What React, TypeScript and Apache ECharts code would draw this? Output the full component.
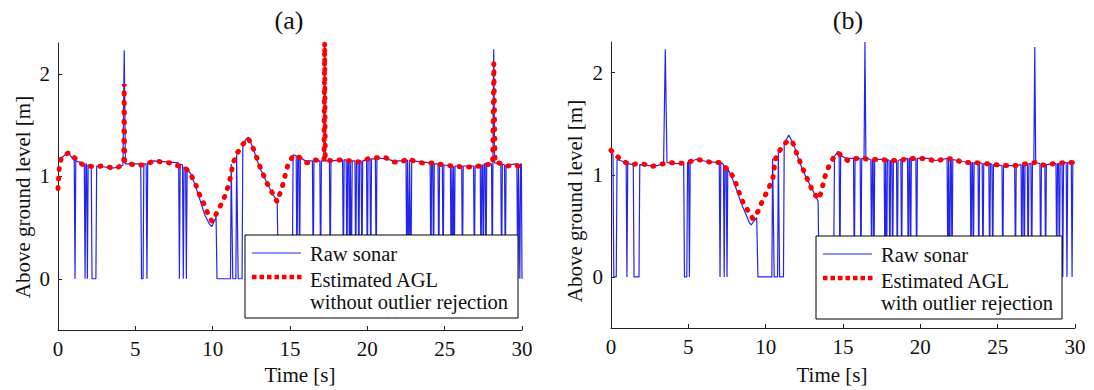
import React, { useEffect, useRef } from "react";
import * as echarts from "echarts";

// ---------- data ----------
const xMin = 0;
const xMax = 30;
const xInterval = 5;
const yMin = -0.5;
const yMax = 2.3;
const yTickValues = [0, 1, 2];

const panelTitles = ["(a)", "(b)"];
const xAxisTitle = "Time [s]";
const yAxisTitle = "Above ground level [m]";
const legendRaw = "Raw sonar";
const legendEstA = ["Estimated AGL", "without outlier rejection"];
const legendEstB = ["Estimated AGL", "with outlier rejection"];

// (a) raw sonar [time, value]
const rawA: number[][] = [
  [0, 1.15], [0.3, 1.19], [0.67, 1.23], [0.95, 1.17],
  [1.05, 1.16], [1.1, 0], [1.15, 1.15],
  [1.7, 1.12], [1.75, 0], [1.8, 1.12], [1.85, 1.12], [1.9, 0], [1.95, 1.11],
  [2.15, 1.11], [2.2, 0], [2.45, 0], [2.5, 1.1],
  [3.0, 1.09], [3.5, 1.08], [4.0, 1.09], [4.2, 1.11], [4.28, 2.23], [4.36, 1.12],
  [5.0, 1.12], [5.35, 1.12], [5.4, 0], [5.5, 0], [5.55, 1.12], [5.7, 1.12], [5.75, 0], [5.8, 1.13],
  [6.2, 1.15], [7.0, 1.14], [7.8, 1.13], [7.85, 0], [7.9, 1.12], [8.05, 1.11], [8.1, 0], [8.15, 1.09],
  [8.25, 1.08], [8.3, 0], [8.35, 1.07],
  [8.6, 1.02], [8.9, 0.9], [9.2, 0.76], [9.5, 0.62], [9.8, 0.53], [9.95, 0.51], [10.1, 0.56], [10.22, 0.6], [10.28, 0],
  [11.15, 0], [11.2, 1.12], [11.3, 0], [11.5, 0], [11.55, 1.21], [11.65, 0], [11.9, 0], [11.95, 1.31],
  [12.15, 1.36], [12.3, 1.38], [12.6, 1.28], [13.0, 1.1], [13.5, 0.94], [13.9, 0.82], [14.17, 0.76], [14.25, 0],
  [15.15, 0], [15.2, 1.21], [15.4, 1.2], [15.45, 0], [15.5, 1.2], [15.57, 1.19], [15.62, 0], [15.67, 1.18],
  [16.0, 1.15], [16.45, 1.15], [16.5, 0], [16.55, 1.15], [16.93, 1.15], [16.98, 0], [17.03, 1.15],
  [17.18, 1.15], [17.24, 2.3], [17.3, 1.15], [17.55, 1.15], [17.6, 0], [17.65, 1.15],
  [18.4, 1.16], [18.45, 0], [18.5, 1.16], [18.63, 1.16], [18.68, 0], [18.73, 1.16], [18.8, 1.15], [18.85, 0], [18.9, 1.15],
  [18.93, 1.15], [18.97, 0], [19.02, 1.15], [19.2, 1.15], [19.25, 0], [19.3, 1.15], [19.4, 1.14], [19.45, 0], [19.5, 1.14],
  [19.6, 1.15], [19.65, 0], [19.7, 1.15], [19.95, 1.16], [20.0, 0], [20.05, 1.16], [20.17, 1.17], [20.22, 0], [20.27, 1.17],
  [20.52, 1.17], [20.57, 0], [20.62, 1.18], [21.2, 1.17], [21.7, 1.15], [22.2, 1.15],
  [22.5, 1.16], [22.55, 0], [22.6, 1.16], [22.63, 1.16], [22.68, 0], [22.73, 1.16], [22.77, 1.16], [22.82, 0], [22.87, 1.15],
  [23.5, 1.14], [24.06, 1.13], [24.11, 0], [24.16, 1.13], [24.23, 1.13], [24.28, 0], [24.33, 1.12],
  [24.57, 1.12], [24.62, 0], [24.67, 1.12], [24.85, 1.11], [24.9, 0], [24.95, 1.11],
  [25.37, 1.1], [25.42, 0], [25.47, 1.1], [25.48, 1.1], [25.52, 0], [25.57, 1.1], [25.58, 1.1], [25.62, 0], [25.67, 1.1],
  [26.1, 1.1], [26.15, 0], [26.2, 1.1], [26.87, 1.1], [26.92, 0], [26.97, 1.1],
  [27.3, 1.11], [27.35, 0], [27.4, 1.11], [27.45, 1.11], [27.5, 0], [27.55, 1.12], [27.62, 1.12], [27.67, 0], [27.72, 1.12],
  [28.03, 1.12], [28.08, 0], [28.12, 1.12], [28.17, 2.24], [28.23, 1.13],
  [28.63, 1.12], [28.68, 0], [28.73, 1.12], [28.87, 1.11], [28.92, 0], [28.97, 1.11],
  [29.67, 1.12], [29.72, 0], [29.77, 1.12], [29.81, 1.12], [29.86, 0], [29.91, 1.12], [29.96, 1.12], [30.0, 0],
];

// (a) estimated AGL without outlier rejection
const estA: number[][] = [
  [0, 0.88], [0.08, 1.08], [0.2, 1.17], [0.45, 1.21], [0.7, 1.23], [1.0, 1.19], [1.3, 1.14], [1.65, 1.11],
  [2.0, 1.1], [2.4, 1.09], [2.8, 1.1], [3.05, 1.1], [3.5, 1.08], [3.8, 1.08], [4.15, 1.11], [4.25, 1.13],
  [4.28, 1.9], [4.31, 1.14], [4.6, 1.12], [5.0, 1.11], [5.5, 1.11], [5.9, 1.13], [6.2, 1.15], [6.7, 1.14],
  [7.2, 1.13], [7.8, 1.1], [8.3, 1.07], [8.55, 1.03], [8.9, 0.92], [9.2, 0.8], [9.5, 0.71], [9.75, 0.61],
  [9.96, 0.56], [10.33, 0.66], [10.72, 0.78], [11.0, 0.9], [11.2, 1.02], [11.3, 1.12], [11.6, 1.23],
  [11.95, 1.31], [12.3, 1.37], [12.66, 1.26], [13.09, 1.08], [13.52, 0.93], [13.85, 0.84], [14.17, 0.75],
  [14.5, 0.9], [14.86, 1.11], [15.2, 1.2], [15.56, 1.19], [16.1, 1.13], [16.55, 1.16], [17.1, 1.15],
  [17.2, 1.16], [17.24, 2.3], [17.28, 1.16], [17.73, 1.15], [18.27, 1.16], [18.92, 1.15], [19.46, 1.14],
  [20.06, 1.17], [20.6, 1.18], [21.2, 1.18], [21.7, 1.14], [22.24, 1.14], [22.56, 1.17], [23.0, 1.15],
  [23.54, 1.13], [24.3, 1.13], [24.94, 1.11], [25.53, 1.1], [26.24, 1.09], [26.89, 1.09], [27.54, 1.11],
  [28.1, 1.12], [28.18, 2.1], [28.26, 1.13], [28.5, 1.13], [29.1, 1.1], [29.6, 1.11], [29.75, 1.1],
];

// (b) raw sonar [time, value]
const rawB: number[][] = [
  [0, 1.22], [0.13, 1.2], [0.18, 0], [0.34, 0], [0.39, 1.15],
  [0.98, 1.12], [1.03, 0], [1.08, 1.11],
  [1.44, 1.1], [1.49, 0], [1.81, 0], [1.86, 1.1],
  [2.5, 1.09], [3.0, 1.09], [3.4, 1.11], [3.51, 2.23], [3.62, 1.12],
  [4.3, 1.11], [4.7, 1.11], [4.75, 0], [4.9, 0], [4.95, 1.12], [5.02, 1.12], [5.07, 0], [5.12, 1.13],
  [5.5, 1.15], [6.2, 1.13], [7.0, 1.12], [7.05, 0], [7.1, 1.12], [7.27, 1.1], [7.32, 0], [7.37, 1.09],
  [7.45, 1.08], [7.5, 0], [7.55, 1.06],
  [7.8, 0.98], [8.1, 0.86], [8.4, 0.73], [8.7, 0.62], [8.95, 0.53], [9.07, 0.51], [9.25, 0.55], [9.42, 0.58], [9.5, 0],
  [10.4, 0], [10.45, 1.16], [10.55, 0], [10.77, 0], [10.82, 1.22], [10.9, 0], [11.15, 0], [11.2, 1.3],
  [11.49, 1.39], [11.8, 1.3], [12.2, 1.12], [12.6, 0.98], [13.0, 0.86], [13.39, 0.74], [13.45, 0],
  [14.39, 0], [14.45, 1.18], [14.67, 1.23], [14.75, 1.21], [14.8, 0], [14.85, 1.19], [15.2, 1.16],
  [15.68, 1.16], [15.73, 0], [15.78, 1.16], [16.11, 1.16], [16.16, 0], [16.21, 1.16],
  [16.36, 1.16], [16.42, 2.3], [16.48, 1.16], [16.8, 1.15], [16.85, 0], [16.9, 1.15], [16.95, 1.15], [17.0, 0], [17.05, 1.15],
  [17.66, 1.15], [17.71, 0], [17.76, 1.15], [17.77, 1.15], [17.82, 0], [17.87, 1.15], [17.98, 1.14], [18.03, 0], [18.08, 1.14],
  [18.16, 1.14], [18.21, 0], [18.26, 1.14], [18.46, 1.14], [18.51, 0], [18.56, 1.14], [18.74, 1.15], [18.79, 0], [18.84, 1.15],
  [19.17, 1.16], [19.22, 0], [19.27, 1.16], [19.32, 1.16], [19.37, 0], [19.42, 1.16], [19.71, 1.16], [19.76, 0], [19.81, 1.16],
  [20.5, 1.16], [21.0, 1.14], [21.4, 1.15],
  [21.73, 1.16], [21.78, 0], [21.83, 1.16], [21.85, 1.16], [21.9, 0], [21.95, 1.16], [22.0, 1.15], [22.05, 0], [22.1, 1.15],
  [22.7, 1.13], [23.23, 1.12], [23.28, 0], [23.33, 1.12], [23.38, 1.12], [23.43, 0], [23.48, 1.12],
  [23.73, 1.12], [23.78, 0], [23.83, 1.12], [24.0, 1.11], [24.05, 0], [24.1, 1.11],
  [24.43, 1.11], [24.48, 0], [24.53, 1.11], [24.63, 1.1], [24.68, 0], [24.73, 1.1],
  [25.28, 1.09], [25.33, 0], [25.38, 1.09], [26.1, 1.09], [26.15, 0], [26.2, 1.09],
  [26.51, 1.1], [26.56, 0], [26.61, 1.1], [26.67, 1.1], [26.72, 0], [26.77, 1.1], [26.92, 1.11], [26.97, 0], [27.02, 1.11],
  [27.15, 1.11], [27.2, 0], [27.25, 1.11], [27.34, 1.12], [27.4, 2.25], [27.46, 1.12],
  [27.73, 1.11], [27.78, 0], [27.83, 1.1], [28.05, 1.1], [28.1, 0], [28.15, 1.1],
  [28.77, 1.11], [28.82, 0], [28.87, 1.11], [28.94, 1.11], [28.99, 0], [29.04, 1.11],
  [29.16, 1.12], [29.21, 0], [29.26, 1.12], [29.43, 1.12], [29.48, 0], [29.53, 1.12],
  [29.76, 1.12], [29.81, 0], [29.86, 1.12], [30.0, 1.12],
];

// (b) estimated AGL with outlier rejection
const estB: number[][] = [
  [0, 1.24], [0.34, 1.19], [0.78, 1.13], [1.3, 1.1], [1.85, 1.11], [2.28, 1.1], [2.6, 1.08], [3.14, 1.1],
  [3.79, 1.12], [4.37, 1.11], [4.97, 1.12], [5.5, 1.15], [6.04, 1.14], [6.47, 1.12], [7.0, 1.12], [7.33, 1.08],
  [7.65, 1.04], [7.97, 0.96], [8.3, 0.82], [8.5, 0.74], [8.85, 0.65], [9.17, 0.57], [9.5, 0.64], [9.83, 0.76],
  [10.15, 0.85], [10.47, 0.97], [10.6, 1.12], [10.69, 1.19], [11.01, 1.26], [11.44, 1.34], [11.76, 1.31],
  [12.08, 1.18], [12.4, 1.06], [12.63, 0.98], [12.95, 0.87], [13.38, 0.76], [13.6, 0.83], [13.8, 0.97],
  [14.1, 1.09], [14.4, 1.17], [14.73, 1.21], [15.0, 1.17], [15.31, 1.14], [15.63, 1.16], [16.17, 1.16],
  [16.82, 1.15], [17.47, 1.15], [18.0, 1.14], [18.65, 1.14], [19.3, 1.16], [19.94, 1.16], [20.43, 1.16],
  [20.97, 1.13], [21.4, 1.15], [21.73, 1.16], [22.27, 1.15], [22.7, 1.12], [23.46, 1.12], [24.21, 1.11],
  [24.75, 1.1], [25.5, 1.09], [26.15, 1.09], [26.9, 1.11], [27.44, 1.12], [28.09, 1.09], [28.63, 1.11],
  [29.38, 1.12], [29.92, 1.12],
];

// ---------- styling ----------
const FONT = "Liberation Serif";
const BLUE = "#2424f0";
const RED = "#ff0000";
const AXIS = "#222222";
const DOTS = { color: RED, width: 5, type: [1, 8.5], cap: "round" };

function makeAxes(gridIndex: number) {
  const xAxis = {
    type: "value",
    gridIndex,
    min: xMin,
    max: xMax,
    interval: xInterval,
    axisLine: { show: true, onZero: false, lineStyle: { color: AXIS, width: 1 } },
    axisTick: { show: true, inside: true, length: 4, lineStyle: { color: AXIS } },
    axisLabel: { color: "#111", fontFamily: FONT, fontSize: 21, margin: 8 },
    splitLine: { show: false },
  };
  const yAxis = {
    type: "value",
    gridIndex,
    min: yMin,
    max: yMax,
    axisLine: { show: true, onZero: false, lineStyle: { color: AXIS, width: 1 } },
    axisTick: { show: true, inside: true, length: 4, customValues: yTickValues, lineStyle: { color: AXIS } },
    axisLabel: { color: "#111", fontFamily: FONT, fontSize: 21, margin: 8, customValues: yTickValues },
    splitLine: { show: false },
  };
  return { xAxis, yAxis };
}

function legendGraphic(left: number, top: number, width: number, height: number, est: string[]) {
  const z = 100;
  return [
    {
      type: "rect", z, shape: { x: left, y: top, width, height },
      style: { fill: "#ffffff", stroke: "#000000", lineWidth: 1 },
    },
    {
      type: "line", z: z + 1, shape: { x1: left + 7, y1: top + 18, x2: left + 56, y2: top + 18 },
      style: { stroke: BLUE, lineWidth: 1.2 },
    },
    {
      type: "line", z: z + 1, shape: { x1: left + 7, y1: top + 42, x2: left + 57, y2: top + 42 },
      style: { stroke: RED, lineWidth: 4.5, lineDash: [4.5, 3] },
    },
    {
      type: "text", z: z + 1, x: left + 65, y: top + 18.5,
      style: { text: legendRaw, fontFamily: FONT, fontSize: 20.5, fill: "#111", verticalAlign: "middle", align: "left" },
    },
    {
      type: "text", z: z + 1, x: left + 65, y: top + 45,
      style: { text: est[0], fontFamily: FONT, fontSize: 20.5, fill: "#111", verticalAlign: "middle", align: "left" },
    },
    {
      type: "text", z: z + 1, x: left + 65, y: top + 66.5,
      style: { text: est[1], fontFamily: FONT, fontSize: 20.5, fill: "#111", verticalAlign: "middle", align: "left" },
    },
  ];
}

function textEl(text: string, x: number, y: number, size: number, rotation = 0) {
  return {
    type: "text", x, y, rotation, z: 50,
    style: { text, fontFamily: FONT, fontSize: size, fill: "#111", align: "center", verticalAlign: "middle" },
  };
}

export default function App() {
  const ref = useRef<HTMLDivElement>(null);
  useEffect(() => {
    if (!ref.current) return;
    const chart = echarts.init(ref.current, null, { renderer: "svg" });
    const a = makeAxes(0);
    const b = makeAxes(1);
    const option = {
      animation: false,
      backgroundColor: "#ffffff",
      grid: [
        { left: 58, top: 43, width: 464, height: 287 },
        { left: 611, top: 42, width: 464, height: 286 },
      ],
      xAxis: [a.xAxis, b.xAxis],
      yAxis: [a.yAxis, b.yAxis],
      series: [
        {
          type: "line", name: legendRaw, xAxisIndex: 0, yAxisIndex: 0, data: rawA,
          showSymbol: false, symbol: "none", lineStyle: { color: BLUE, width: 1.2 }, z: 2,
        },
        {
          type: "line", name: legendEstA.join(" "), xAxisIndex: 0, yAxisIndex: 0, data: estA,
          showSymbol: false, symbol: "none", z: 3, lineStyle: DOTS,
        },
        {
          type: "line", name: legendRaw, xAxisIndex: 1, yAxisIndex: 1, data: rawB,
          showSymbol: false, symbol: "none", lineStyle: { color: BLUE, width: 1.2 }, z: 2,
        },
        {
          type: "line", name: legendEstB.join(" "), xAxisIndex: 1, yAxisIndex: 1, data: estB,
          showSymbol: false, symbol: "none", z: 3, lineStyle: DOTS,
        },
      ],
      graphic: [
        textEl(panelTitles[0], 289, 20, 26),
        textEl(panelTitles[1], 848, 20, 26),
        textEl(xAxisTitle, 300, 375, 21),
        textEl(xAxisTitle, 832, 375, 21),
        textEl(yAxisTitle, 23, 197, 21, Math.PI / 2),
        textEl(yAxisTitle, 575, 201, 21, Math.PI / 2),
        ...legendGraphic(245, 235, 273, 83, legendEstA),
        ...legendGraphic(816, 236, 246, 83, legendEstB),
      ],
    };
    chart.setOption(option as any);
    return () => chart.dispose();
  }, []);
  return (
    <div
      ref={ref}
      style={{ position: "fixed", left: 0, top: 0, width: 1094, height: 390, background: "#fff" }}
    />
  );
}
